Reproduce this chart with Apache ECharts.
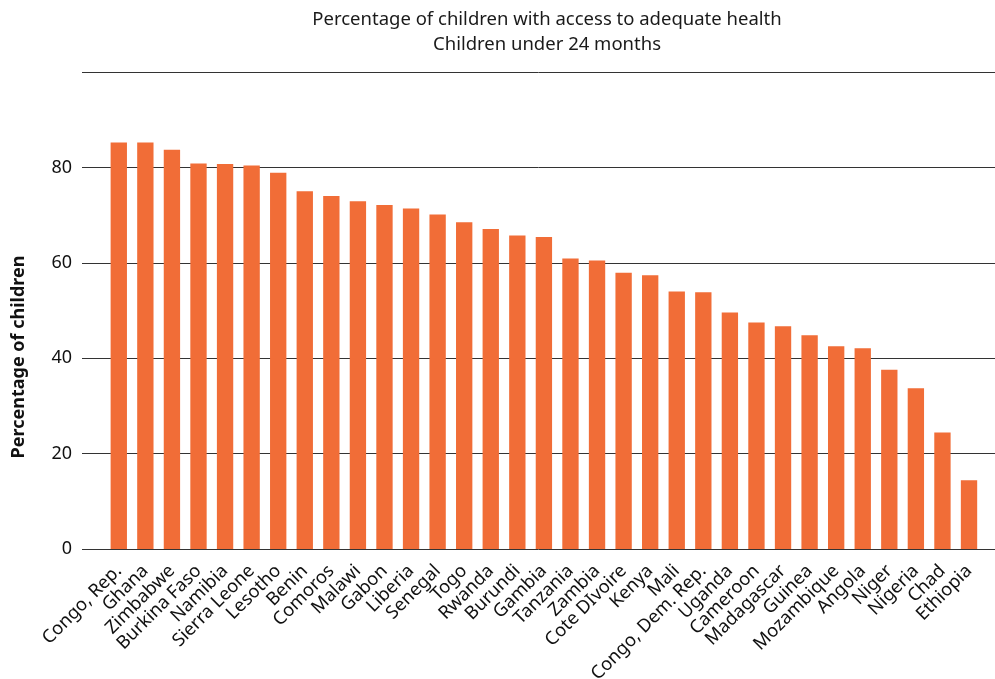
<!DOCTYPE html>
<html>
<head>
<meta charset="utf-8">
<script src="https://cdn.jsdelivr.net/npm/echarts@6/dist/echarts.min.js"></script>
<style>html,body{margin:0;padding:0;background:#fff;}#c{width:995px;height:679px;}</style>
</head>
<body>
<div id="c"></div>
<script>
const titleLines = ["Percentage of children with access to adequate health", "Children under 24 months"];
const yAxisTitle = "Percentage of children";
const countries = ["Congo, Rep.", "Ghana", "Zimbabwe", "Burkina Faso", "Namibia", "Sierra Leone", "Lesotho", "Benin", "Comoros", "Malawi", "Gabon", "Liberia", "Senegal", "Togo", "Rwanda", "Burundi", "Gambia", "Tanzania", "Zambia", "Cote DIvoire", "Kenya", "Mali", "Congo, Dem. Rep.", "Uganda", "Cameroon", "Madagascar", "Guinea", "Mozambique", "Angola", "Niger", "Nigeria", "Chad", "Ethiopia"];
const values = [85.2, 85.2, 83.7, 80.8, 80.7, 80.4, 78.9, 75.0, 74.0, 72.9, 72.1, 71.4, 70.1, 68.5, 67.1, 65.7, 65.4, 60.9, 60.5, 57.9, 57.4, 54.0, 53.8, 49.6, 47.5, 46.7, 44.8, 42.5, 42.1, 37.6, 33.7, 24.4, 14.4];
const yTicks = [0, 20, 40, 60, 80, 100];
const yLabelShown = [0, 20, 40, 60, 80];

const FONT = "Noto Sans";
const chart = echarts.init(document.getElementById('c'), null, {renderer: 'canvas'});
chart.setOption({
  animation: false,
  backgroundColor: '#fff',
  graphic: [
    {type: 'text', x: 547, y: 20, style: {text: titleLines[0], fill: '#1a1a1a', font: '18.5px "' + FONT + '"', textAlign: 'center', textVerticalAlign: 'middle'}},
    {type: 'text', x: 547, y: 45, style: {text: titleLines[1], fill: '#1a1a1a', font: '18.5px "' + FONT + '"', textAlign: 'center', textVerticalAlign: 'middle'}},
    {type: 'text', x: 19, y: 357, rotation: Math.PI / 2, style: {text: yAxisTitle, fill: '#111', font: 'bold 18px "' + FONT + '"', textAlign: 'center', textVerticalAlign: 'middle'}}
  ],
  grid: [
    {left: 82, right: 0, top: 72, bottom: 130, containLabel: false, outerBoundsMode: 'none'},
    {left: 105.5, right: 12.7, top: 72, bottom: 130, containLabel: false, outerBoundsMode: 'none'}
  ],
  xAxis: [
    {gridIndex: 0, type: 'value', min: 0, max: 1, show: false},
    {gridIndex: 1, type: 'category', data: countries,
     axisLine: {show: false}, axisTick: {show: false},
     axisLabel: {rotate: 45, interval: 0, margin: 19, color: '#111', fontFamily: FONT, fontSize: 18.3}}
  ],
  yAxis: [
    {gridIndex: 0, type: 'value', min: yTicks[0], max: yTicks[yTicks.length - 1], interval: 20,
     axisLine: {show: false}, axisTick: {show: false},
     splitLine: {show: true, lineStyle: {color: '#333', width: 1}},
     axisLabel: {margin: 10, color: '#111', fontFamily: FONT, fontSize: 18,
       formatter: v => yLabelShown.includes(v) ? String(v) : ''}},
    {gridIndex: 1, type: 'value', min: yTicks[0], max: yTicks[yTicks.length - 1], show: false, splitLine: {show: false}}
  ],
  series: [{
    type: 'bar', xAxisIndex: 1, yAxisIndex: 1, data: values,
    barWidth: '61.5%', itemStyle: {color: '#f16d37'}
  }]
});
</script>
</body>
</html>
